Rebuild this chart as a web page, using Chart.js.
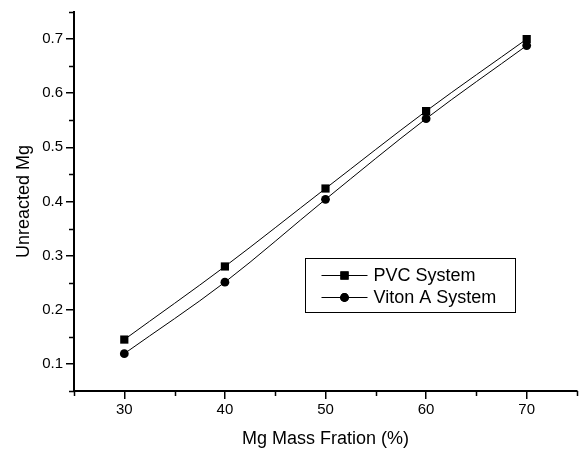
<!DOCTYPE html>
<html>
<head>
<meta charset="utf-8">
<script src="https://cdn.jsdelivr.net/npm/chart.js@4/dist/chart.umd.min.js"></script>
<style>
  html, body { margin: 0; padding: 0; background: #fff; }
  #wrap { width: 585px; height: 450px; position: relative; }
</style>
</head>
<body>
<div id="wrap"><canvas id="c"></canvas></div>
<script>
// Mg mass fraction (%) on the x axis
const massFraction = [30, 40, 50, 60, 70];
// Unreacted Mg for each binder system
const pvcSystem = [0.145, 0.280, 0.424, 0.567, 0.700];
const vitonSystem = [0.119, 0.251, 0.404, 0.553, 0.688];

const seriesNames = ['PVC System', 'Viton A System'];
const xTicks = [30, 40, 50, 60, 70];
const xMinorTicks = [25, 35, 45, 55, 65, 75];
const yTicks = [0.1, 0.2, 0.3, 0.4, 0.5, 0.6, 0.7];
const yMinorTicks = [0.05, 0.15, 0.25, 0.35, 0.45, 0.55, 0.65, 0.75];

const FONT = '"Liberation Sans", Arial, sans-serif';

// Short minor tick marks on both axes
const minorTicks = {
  id: 'minorTicks',
  afterDraw(chart) {
    const ctx = chart.ctx;
    const xs = chart.scales.x, ys = chart.scales.y;
    const area = chart.chartArea;
    ctx.save();
    ctx.strokeStyle = '#000';
    ctx.lineWidth = 1.5;
    ctx.beginPath();
    xMinorTicks.forEach(v => {
      const px = Math.round(xs.getPixelForValue(v)) + 0.5;
      ctx.moveTo(px, area.bottom);
      ctx.lineTo(px, area.bottom + 5);
    });
    yMinorTicks.forEach(v => {
      const py = Math.round(ys.getPixelForValue(v)) + 0.5;
      ctx.moveTo(area.left, py);
      ctx.lineTo(area.left - 5, py);
    });
    ctx.stroke();
    ctx.restore();
  }
};

// Boxed legend drawn inside the plot area
const boxLegend = {
  id: 'boxLegend',
  afterDraw(chart) {
    const ctx = chart.ctx;
    const box = { x: 305.5, y: 258.5, w: 210, h: 54 };
    ctx.save();
    ctx.strokeStyle = '#000';
    ctx.lineWidth = 1;
    ctx.strokeRect(box.x, box.y, box.w, box.h);
    ctx.font = '18px ' + FONT;
    ctx.textBaseline = 'middle';
    ctx.fillStyle = '#000';
    chart.data.datasets.forEach((ds, i) => {
      const cy = box.y + 17 + i * 22;
      ctx.beginPath();
      ctx.moveTo(box.x + 16, cy);
      ctx.lineTo(box.x + 62, cy);
      ctx.lineWidth = 1;
      ctx.stroke();
      Chart.helpers.drawPoint(ctx, {
        pointStyle: ds.pointStyle,
        radius: ds.pointRadius,
        borderWidth: 0
      }, box.x + 39, cy);
      ctx.fill();
      ctx.fillText(ds.label, box.x + 68, cy + 1);
    });
    ctx.restore();
  }
};

new Chart(document.getElementById('c'), {
  type: 'line',
  data: {
    labels: massFraction,
    datasets: [
      {
        label: seriesNames[0],
        data: massFraction.map((x, i) => ({ x, y: pvcSystem[i] })),
        borderColor: '#000',
        backgroundColor: '#000',
        borderWidth: 1,
        pointStyle: 'rect',
        pointRadius: 5.8,
        pointBorderWidth: 0,
        cubicInterpolationMode: 'monotone'
      },
      {
        label: seriesNames[1],
        data: massFraction.map((x, i) => ({ x, y: vitonSystem[i] })),
        borderColor: '#000',
        backgroundColor: '#000',
        borderWidth: 1,
        pointStyle: 'circle',
        pointRadius: 4.4,
        pointBorderWidth: 0,
        cubicInterpolationMode: 'monotone'
      }
    ]
  },
  options: {
    responsive: true,
    maintainAspectRatio: false,
    animation: false,
    events: [],
    layout: { padding: { top: 12, right: 8, left: 0, bottom: 0 } },
    plugins: {
      legend: { display: false },
      tooltip: { enabled: false }
    },
    scales: {
      x: {
        type: 'linear',
        min: 25,
        max: 75,
        afterBuildTicks: s => { s.ticks = xTicks.map(v => ({ value: v })); },
        afterFit: s => { s.height = 59; },
        grid: { drawOnChartArea: false, drawTicks: true, tickLength: 8, color: '#000', lineWidth: 1.5 },
        border: { display: true, color: '#000', width: 2 },
        ticks: { color: '#000', font: { family: FONT, size: 15 }, padding: 2, maxRotation: 0 },
        title: { display: true, text: 'Mg Mass Fration (%)', color: '#000', font: { family: FONT, size: 18 }, padding: { top: 0, bottom: 0 } }
      },
      y: {
        type: 'linear',
        min: 0.05,
        max: 0.75,
        afterBuildTicks: s => { s.ticks = yTicks.map(v => ({ value: v })); },
        afterFit: s => { s.width = 74; },
        grid: { drawOnChartArea: false, drawTicks: true, tickLength: 8, color: '#000', lineWidth: 1.5 },
        border: { display: true, color: '#000', width: 2 },
        ticks: { color: '#000', font: { family: FONT, size: 15 }, padding: 3, callback: v => v.toFixed(1) },
        title: { display: true, text: 'Unreacted Mg', color: '#000', font: { family: FONT, size: 18 }, padding: { top: 13, bottom: 0 } }
      }
    }
  },
  plugins: [minorTicks, boxLegend]
});
</script>
</body>
</html>
